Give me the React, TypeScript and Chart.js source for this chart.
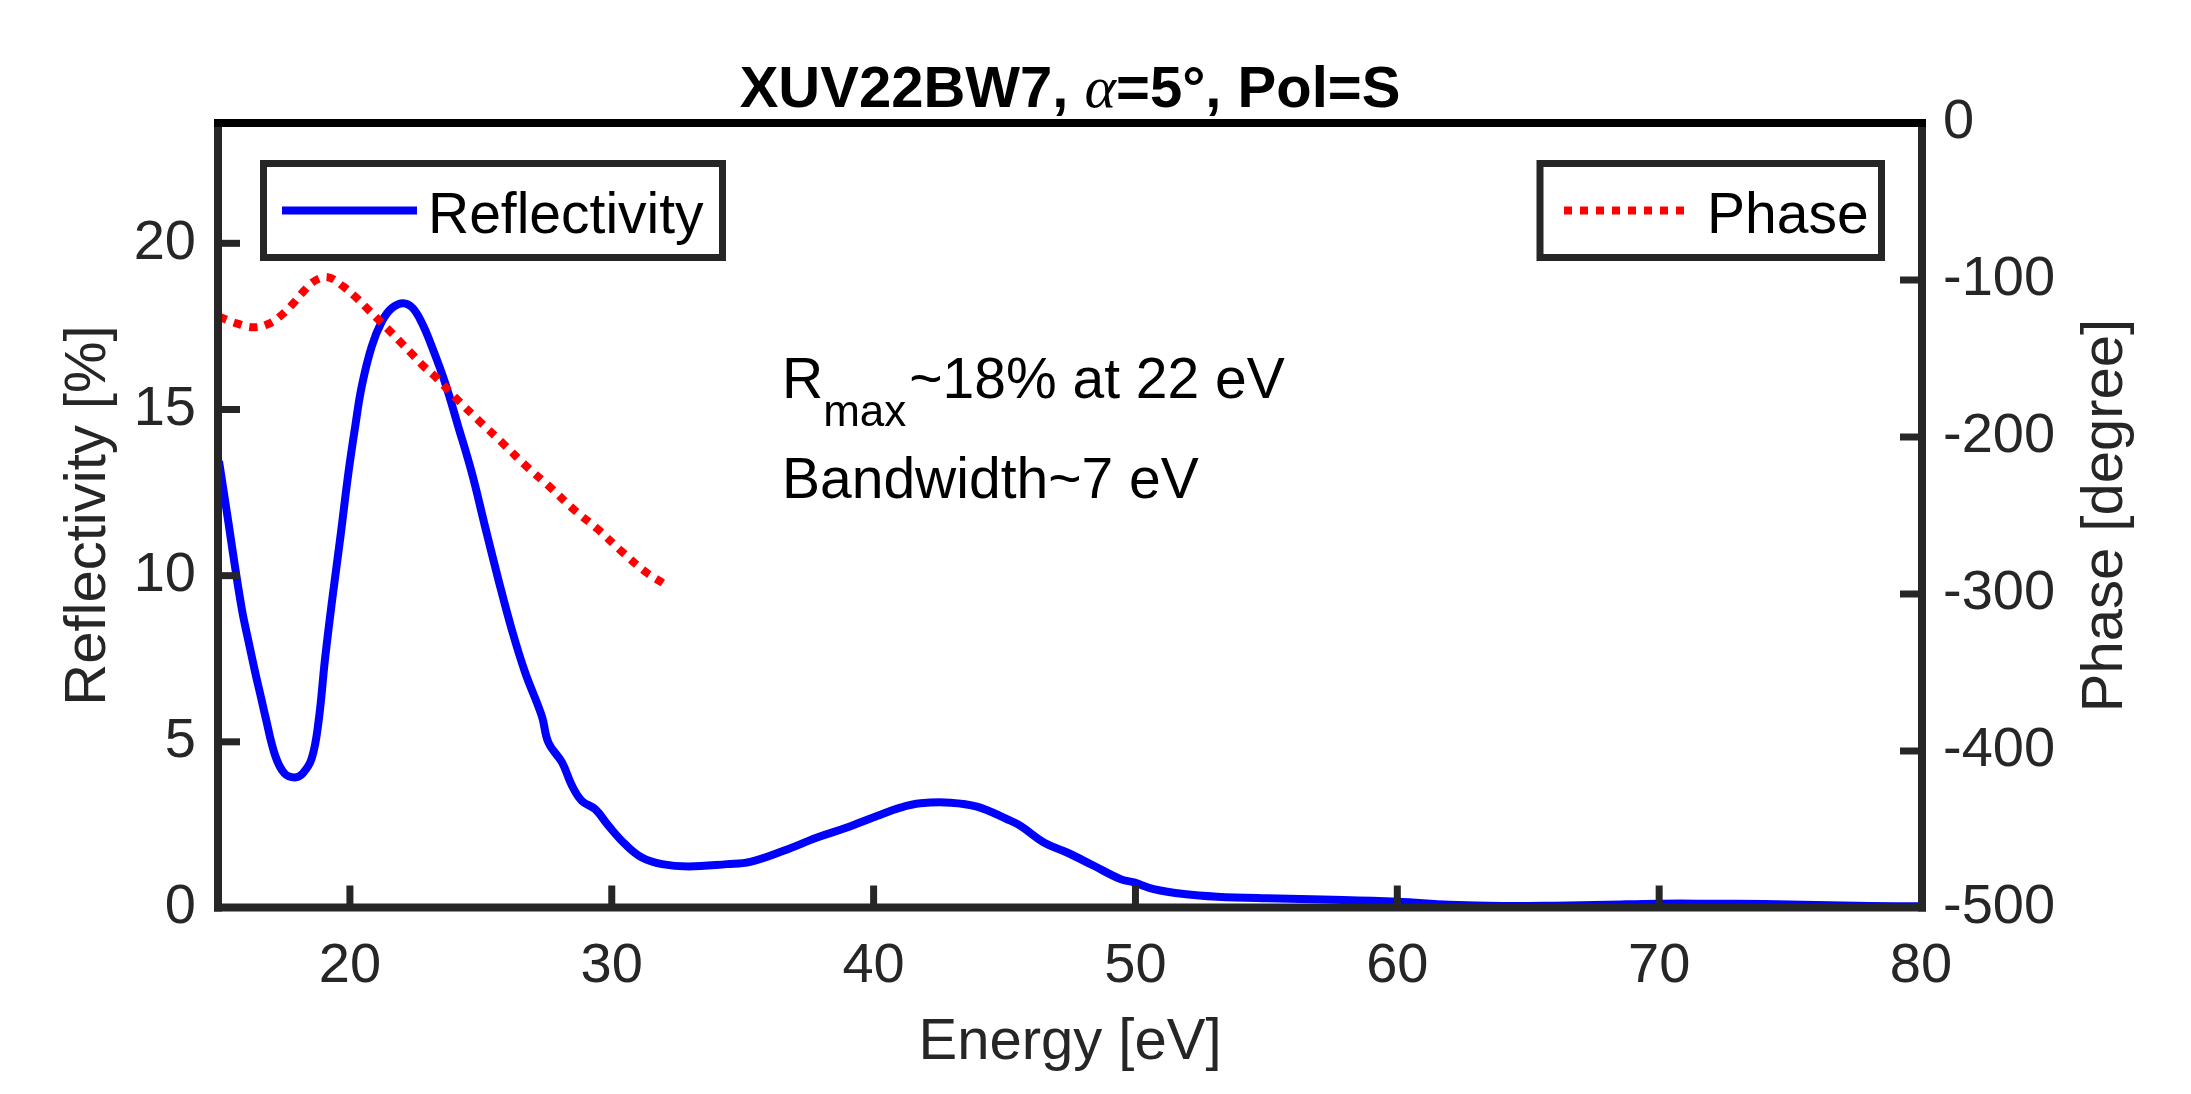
import { useEffect, useRef } from 'react';
import { Chart, registerables } from 'chart.js';

Chart.register(...registerables);

// ---- Data ----
const reflEnergy = [
  15.0, 15.36, 15.5, 15.87, 16.12, 16.38, 16.63, 16.76, 17.14, 17.5, 17.9, 18.2, 18.54, 18.8, 19.05, 19.31,
  19.65, 19.94, 20.2, 20.45, 20.83, 21.22, 21.6, 22.04, 22.4, 22.75, 23.13, 23.64, 24.14, 24.66, 25.16, 25.67,
  26.18, 26.69, 27.33, 27.58, 28.1, 28.48, 28.86, 29.37, 29.88, 30.51, 31.15, 31.92, 32.93, 34.4, 35.29,
  36.56, 37.84, 38.98, 40.13, 41.02, 41.79, 42.93, 43.95, 45.1, 45.61, 46.5, 47.39, 48.41, 49.43, 49.94,
  50.7, 51.85, 53.12, 55.03, 57.58, 60.0, 62.0, 64.0, 66.0, 68.0, 70.0, 72.0, 74.0, 76.0, 78.0, 80.0,
];
const reflValues = [
  13.45, 11.6, 10.85, 9.0, 8.05, 7.1, 6.25, 5.8, 4.6, 4.05, 3.93, 4.05, 4.5, 5.6, 7.5, 9.2,
  11.25, 13.08, 14.48, 15.69, 16.89, 17.65, 18.05, 18.2, 18.05, 17.6, 16.89, 15.79, 14.48, 13.08, 11.48, 9.88,
  8.38, 7.09, 5.77, 4.98, 4.38, 3.68, 3.22, 2.97, 2.47, 1.92, 1.52, 1.32, 1.25, 1.32, 1.39,
  1.72, 2.12, 2.42, 2.77, 3.02, 3.15, 3.17, 3.05, 2.67, 2.47, 1.97, 1.67, 1.27, 0.87, 0.77,
  0.57, 0.42, 0.34, 0.29, 0.25, 0.19, 0.1, 0.06, 0.07, 0.1, 0.13, 0.13, 0.12, 0.09, 0.06, 0.05,
];

const phaseEnergy = [
  15.0, 15.67, 16.31, 16.88, 17.39, 17.84, 18.22, 18.67, 19.18, 19.75, 20.2, 20.65, 21.1, 21.48, 21.92,
  22.37, 22.81, 23.26, 24.09, 24.97, 25.87, 26.73, 27.65, 28.54, 29.47, 30.36, 31.28, 31.95,
];
const phaseValues = [
  -123.4, -127.6, -130.1, -128.0, -122.3, -114.8, -107.4, -100.4, -98.3, -104.2, -110.6, -118.0, -125.5,
  -131.8, -139.3, -147.1, -154.8, -161.6, -176.0, -190.3, -204.5, -218.5, -232.0, -246.0, -258.8, -272.6,
  -285.8, -293.0,
];

const titleParts = ['XUV22BW7, ', '\u03B1', '=5\u00B0, Pol=S'];
const xLabel = 'Energy [eV]';
const yLabel = 'Reflectivity [%]';
const y2Label = 'Phase [degree]';
const annotationLine1 = ['R', 'max', '~18% at 22 eV'];
const annotationLine2 = 'Bandwidth~7 eV';

const FONT = '"Liberation Sans", Arial, Helvetica, sans-serif';
const AXIS = '#262626';

const overlayPlugin = {
  id: 'overlay',
  afterDatasetsDraw(chart: any) {
    const { ctx, chartArea: a, scales } = chart;
    ctx.save();
    const line = (x1: number, y1: number, x2: number, y2: number) => {
      ctx.beginPath();
      ctx.moveTo(x1, y1);
      ctx.lineTo(x2, y2);
      ctx.stroke();
    };
    const L = a.left - 1;
    const R = a.right + 1;
    const T = a.top;
    const B = a.bottom - 0.5;
    // inward tick marks
    ctx.strokeStyle = AXIS;
    ctx.lineWidth = 7;
    ctx.lineCap = 'butt';
    const TL = 22;
    scales.x.ticks.forEach((t: any) => {
      if (t.value <= scales.x.min || t.value >= scales.x.max) return;
      const px = scales.x.getPixelForValue(t.value);
      line(px, B, px, B - TL);
    });
    scales.y.ticks.forEach((t: any) => {
      if (t.value <= scales.y.min || t.value >= scales.y.max) return;
      const py = scales.y.getPixelForValue(t.value);
      line(L, py, L + TL, py);
    });
    scales.y2.ticks.forEach((t: any) => {
      if (t.value <= scales.y2.min || t.value >= scales.y2.max) return;
      const py = scales.y2.getPixelForValue(t.value);
      line(R, py, R - TL, py);
    });
    // frame
    ctx.lineWidth = 8;
    ctx.strokeStyle = AXIS;
    line(L, T - 4, L, B + 4);
    line(R, T - 4, R, B + 4);
    line(L - 4, B, R + 4, B);
    ctx.strokeStyle = '#000000';
    line(L - 4, T, R + 4, T);

    // legends
    const box = (x1: number, y1: number, x2: number, y2: number) => {
      ctx.fillStyle = '#ffffff';
      ctx.fillRect(x1, y1, x2 - x1, y2 - y1);
      ctx.strokeStyle = AXIS;
      ctx.lineWidth = 7;
      ctx.strokeRect(x1, y1, x2 - x1, y2 - y1);
    };
    box(263.5, 163.5, 722.5, 257.5);
    ctx.strokeStyle = '#0000FF';
    ctx.lineWidth = 8;
    line(282, 210.5, 417, 210.5);
    ctx.fillStyle = '#000000';
    ctx.font = `57px ${FONT}`;
    ctx.textAlign = 'left';
    ctx.textBaseline = 'alphabetic';
    ctx.fillText('Reflectivity', 428, 233);

    box(1540, 163.5, 1881.5, 257.5);
    ctx.strokeStyle = '#FF0000';
    ctx.lineWidth = 8;
    ctx.setLineDash([8, 8]);
    line(1564, 210.5, 1686, 210.5);
    ctx.setLineDash([]);
    ctx.fillStyle = '#000000';
    ctx.font = `57px ${FONT}`;
    ctx.fillText('Phase', 1707, 233);

    // annotations
    let x = 782;
    ctx.font = `57px ${FONT}`;
    ctx.fillText(annotationLine1[0], x, 398);
    x += ctx.measureText(annotationLine1[0]).width;
    ctx.font = `44px ${FONT}`;
    ctx.fillText(annotationLine1[1], x, 426);
    x += ctx.measureText(annotationLine1[1]).width + 3;
    ctx.font = `57px ${FONT}`;
    ctx.fillText(annotationLine1[2], x, 398);
    ctx.fillText(annotationLine2, 782, 498);

    // title
    const fonts = [`bold 58px ${FONT}`, `italic 60px "Liberation Serif", "DejaVu Serif", serif`, `bold 58px ${FONT}`];
    let total = 0;
    const widths = titleParts.map((p, i) => {
      ctx.font = fonts[i];
      const w = ctx.measureText(p).width;
      total += w;
      return w;
    });
    let tx = (a.left + a.right) / 2 - total / 2;
    ctx.fillStyle = '#000000';
    titleParts.forEach((p, i) => {
      ctx.font = fonts[i];
      ctx.fillText(p, tx, 107);
      tx += widths[i];
    });

    // right axis title (reads bottom to top)
    ctx.save();
    ctx.translate(2122, (a.top + a.bottom) / 2);
    ctx.rotate(-Math.PI / 2);
    ctx.font = `58px ${FONT}`;
    ctx.fillStyle = AXIS;
    ctx.textAlign = 'center';
    ctx.textBaseline = 'alphabetic';
    ctx.fillText(y2Label, 0, 0);
    ctx.restore();

    ctx.restore();
  },
};

export default function App() {
  const ref = useRef<HTMLCanvasElement>(null);
  useEffect(() => {
    if (!ref.current) return;
    const chart = new Chart(ref.current, {
      type: 'line',
      data: {
        datasets: [
          {
            label: 'Phase',
            data: phaseEnergy.map((x, i) => ({ x, y: phaseValues[i] })),
            yAxisID: 'y2',
            borderColor: '#FF0000',
            borderWidth: 8,
            borderDash: [8, 8],
            borderCapStyle: 'butt',
            pointRadius: 0,
            tension: 0.4,
            fill: false,
          },
          {
            label: 'Reflectivity',
            data: reflEnergy.map((x, i) => ({ x, y: reflValues[i] })),
            yAxisID: 'y',
            borderColor: '#0000FF',
            borderWidth: 8,
            borderJoinStyle: 'round',
            pointRadius: 0,
            tension: 0.4,
            fill: false,
          },
        ],
      } as any,
      options: {
        animation: false,
        responsive: false,
        devicePixelRatio: 1,
        layout: { padding: { top: 123, left: 0, right: 0, bottom: 0 } },
        plugins: {
          legend: { display: false },
          title: { display: false },
          tooltip: { enabled: false },
        },
        scales: {
          x: {
            type: 'linear',
            position: 'bottom',
            min: 15,
            max: 80,
            grid: { display: false, drawTicks: false },
            border: { display: false },
            ticks: {
              stepSize: 10,
              includeBounds: false,
              padding: 25,
              color: AXIS,
              font: { family: FONT, size: 56 },
              maxRotation: 0,
            },
            title: {
              display: true,
              text: xLabel,
              color: AXIS,
              font: { family: FONT, size: 58 },
              padding: { top: 0, bottom: 16 },
            },
            afterFit: (s: any) => {
              s.height = 186;
            },
          },
          y: {
            type: 'linear',
            position: 'left',
            min: 0,
            max: 23.62,
            grid: { display: false, drawTicks: false },
            border: { display: false },
            ticks: {
              stepSize: 5,
              includeBounds: false,
              padding: 23,
              color: AXIS,
              font: { family: FONT, size: 56 },
            },
            title: {
              display: true,
              text: yLabel,
              color: AXIS,
              font: { family: FONT, size: 58 },
              padding: { top: 54, bottom: 0 },
            },
            afterFit: (s: any) => {
              s.width = 219;
            },
          },
          y2: {
            type: 'linear',
            position: 'right',
            min: -500,
            max: 0,
            grid: { display: false, drawTicks: false, drawOnChartArea: false },
            border: { display: false },
            ticks: {
              stepSize: 100,
              includeBounds: false,
              padding: 22,
              color: AXIS,
              font: { family: FONT, size: 56 },
            },
            afterFit: (s: any) => {
              s.width = 270;
            },
          },
        },
      } as any,
      plugins: [overlayPlugin],
    });
    return () => chart.destroy();
  }, []);
  return (
    <canvas
      ref={ref}
      width={2191}
      height={1094}
      style={{ position: 'absolute', left: 0, top: 0, display: 'block', background: '#ffffff' }}
    />
  );
}
